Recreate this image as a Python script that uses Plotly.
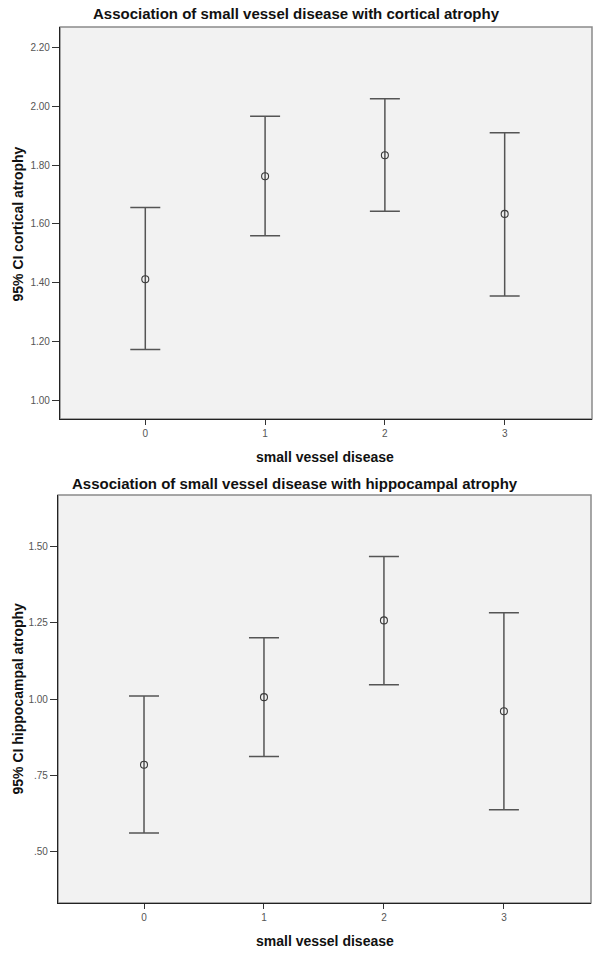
import plotly.graph_objects as go

# ---- data ----
groups = [0, 1, 2, 3]

cort_mean = [1.412, 1.762, 1.833, 1.634]
cort_low = [1.173, 1.560, 1.643, 1.355]
cort_high = [1.656, 1.966, 2.025, 1.910]

hip_mean = [0.785, 1.006, 1.257, 0.960]
hip_low = [0.562, 0.812, 1.047, 0.638]
hip_high = [1.010, 1.200, 1.466, 1.282]

cort_ticks = [1.0, 1.2, 1.4, 1.6, 1.8, 2.0, 2.2]
cort_ticktext = ["1.00", "1.20", "1.40", "1.60", "1.80", "2.00", "2.20"]
hip_ticks = [0.5, 0.75, 1.0, 1.25, 1.5]
hip_ticktext = [".50", ".75", "1.00", "1.25", "1.50"]

W, H = 601, 955
FONT = "Liberation Sans, Arial, sans-serif"
BAR = "#555555"

fig = go.Figure()


def add_panel(mean, low, high, xa, ya):
    fig.add_trace(go.Scatter(
        x=groups, y=mean, mode="markers",
        xaxis=xa, yaxis=ya,
        marker=dict(symbol="circle-open", size=7, color="#3a3a3a", line=dict(width=1.1)),
        error_y=dict(
            type="data", symmetric=False,
            array=[h - m for h, m in zip(high, mean)],
            arrayminus=[m - l for m, l in zip(mean, low)],
            color=BAR, thickness=1.5, width=15,
        ),
        showlegend=False, hoverinfo="skip",
    ))


add_panel(cort_mean, cort_low, cort_high, "x", "y")
add_panel(hip_mean, hip_low, hip_high, "x2", "y2")

xcommon = dict(
    tickvals=groups, ticktext=[str(g) for g in groups], automargin=False,
    showgrid=False, zeroline=False, showline=True, linecolor="#222222", linewidth=1.2,
    ticks="outside", ticklen=5, tickcolor="#333333",
    tickfont=dict(family=FONT, size=10, color="#555555"),
)
ycommon = dict(
    automargin=False,
    showgrid=False, zeroline=False, showline=True, linecolor="#222222", linewidth=1.2,
    ticks="outside", ticklen=7, tickcolor="#333333",
    tickfont=dict(family=FONT, size=10, color="#555555"),
)

fig.update_layout(
    width=W, height=H,
    margin=dict(l=0, r=0, t=0, b=0),
    paper_bgcolor="white", plot_bgcolor="#f2f2f2",
    xaxis=dict(domain=[60 / W, 592 / W], range=[-0.712, 3.729], anchor="y", **xcommon),
    yaxis=dict(domain=[1 - 419 / H, 1 - 27 / H], range=[0.937, 2.269], anchor="x",
               tickvals=cort_ticks, ticktext=cort_ticktext, **ycommon),
    xaxis2=dict(domain=[58 / W, 591 / W], range=[-0.717, 3.726], anchor="y2", **xcommon),
    yaxis2=dict(domain=[1 - 903 / H, 1 - 495 / H], range=[0.333, 1.667], anchor="x2",
                tickvals=hip_ticks, ticktext=hip_ticktext, **ycommon),
)

# grey frame on the top/right sides
for xa, ya in [("x", "y"), ("x2", "y2")]:
    fig.add_shape(type="rect", xref=xa + " domain", yref=ya + " domain",
                  x0=0, x1=1, y0=0, y1=1, line=dict(color="#8a8a8a", width=1.5),
                  layer="below")

bold = dict(family=FONT, color="#111111")


def label(text, x, y, size, angle=0):
    fig.add_annotation(text="<b>" + text + "</b>", xref="paper", yref="paper",
                       x=x / W, y=1 - y / H, xanchor="center", yanchor="middle",
                       showarrow=False, textangle=angle, font=dict(size=size, **bold))


label("Association of small vessel disease with cortical atrophy", 296, 14, 15)
label("95% CI cortical atrophy", 17.5, 224, 14, -90)
label("small vessel disease", 325, 457, 14)

label("Association of small vessel disease with hippocampal atrophy", 295, 483, 15)
label("95% CI hippocampal atrophy", 17.5, 699, 14, -90)
label("small vessel disease", 325, 941, 14)

# drop the default page margin so the figure sits at the window's corner
fig.write_html("out.html", config={"displayModeBar": False},
               post_script="document.body.style.margin='0';")
